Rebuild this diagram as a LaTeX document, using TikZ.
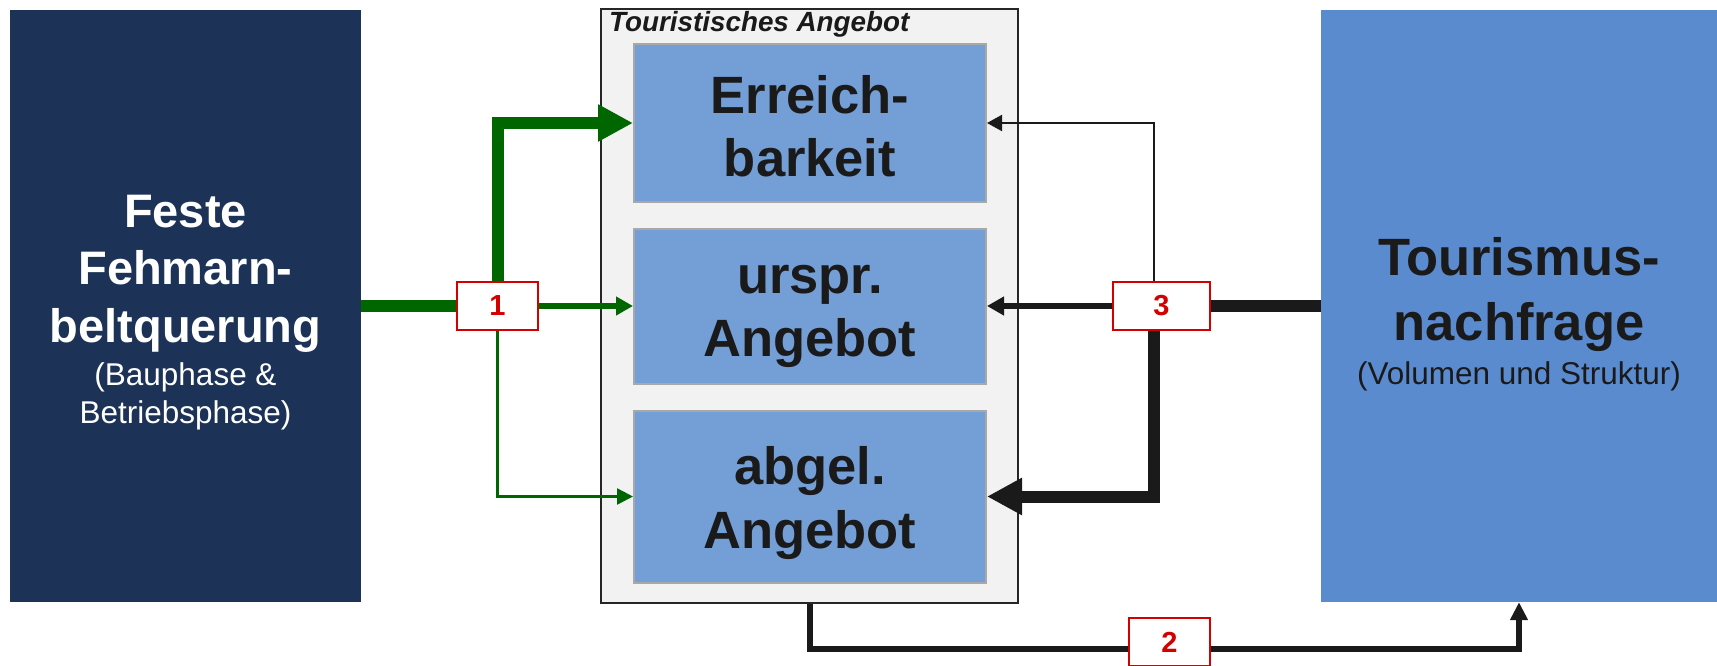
\documentclass[tikz,border=0pt]{standalone}
\usepackage{fontspec}
\setmainfont{Liberation Sans}
\usetikzlibrary{arrows.meta}

\definecolor{navy}{HTML}{1C3257}
\definecolor{innerblue}{HTML}{749ED6}
\definecolor{innergray}{HTML}{A8A8A8}
\definecolor{demandblue}{HTML}{5B8BCF}
\definecolor{panelfill}{HTML}{F2F2F2}
\definecolor{panelline}{HTML}{262626}
\definecolor{ink}{HTML}{1A1A1A}
\definecolor{fgreen}{HTML}{006600}
\definecolor{numred}{HTML}{D40000}

\begin{document}
\begin{tikzpicture}[x=1pt,y=-1pt,
  block/.style={rectangle, inner sep=0pt, draw=none},
  sub/.style={rectangle, inner sep=0pt, fill=innerblue, draw=innergray,
    line width=2pt, minimum width=352pt},
  bigtext/.style={inner sep=0pt, align=center, text=ink,
    font=\bfseries\fontsize{52.5}{63.5}\selectfont},
  numbox/.style={rectangle, inner sep=0pt, fill=white, draw=numred,
    line width=1.6pt, minimum height=48pt, text=numred,
    font=\bfseries\fontsize{29}{29}\selectfont},
  gthick/.style={draw=fgreen, line width=12pt, line join=miter},
  gmed/.style={draw=fgreen, line width=6pt},
  gthin/.style={draw=fgreen, line width=2.5pt, line join=miter},
  kthick/.style={draw=ink, line width=12pt, line join=miter},
  kmed/.style={draw=ink, line width=6pt, line join=miter},
  kthin/.style={draw=ink, line width=2pt, line join=miter},
  bigtip/.style={-{Triangle[length=35pt,width=35pt]}},
  midtip/.style={-{Triangle[length=17pt,width=18pt]}},
  smalltip/.style={-{Triangle[length=16pt,width=16pt]}}
]
\useasboundingbox (0,0) rectangle (1717,666);
\fill[white] (0,0) rectangle (1717,666);

% left block: the fixed link
\node[block, fill=navy, minimum width=351pt, minimum height=592pt] (link) at (185.5,306) {};
\node[inner sep=0pt, align=center, text=white,
      font=\bfseries\fontsize{47}{57.5}\selectfont] (linktext) at (185.5,312.5)
  {Feste\\Fehmarn-\\beltquerung\\[-14.5pt]
   {\mdseries\fontsize{31.5}{38}\selectfont (Bauphase \&}\\[-19.5pt]
   {\mdseries\fontsize{31.5}{38}\selectfont Betriebsphase)}};

% middle panel with three components
\node[block, fill=panelfill, draw=panelline, line width=2pt,
      minimum width=417pt, minimum height=594pt] (offer) at (809.5,306) {};
\node[anchor=base west, inner sep=0pt, text=ink,
      font=\bfseries\itshape\fontsize{27.8}{27.8}\selectfont] (offertitle) at (609,32)
  {Touristisches Angebot};

\node[sub, minimum height=157pt] (erreich) at (810,123) {};
\node[bigtext] (erreichtext) at (810,126) {Erreich-\\barkeit};
\node[sub, minimum height=155pt] (urspr) at (810,306) {};
\node[bigtext] (ursprtext) at (810,316.5) {urspr.\\Angebot};
\node[sub, minimum height=172pt] (abgel) at (810,496.5) {};
\node[bigtext] (abgeltext) at (810,503) {abgel.\\Angebot};

% right block: demand
\node[block, fill=demandblue, minimum width=396pt, minimum height=592pt] (demand) at (1519,306) {};
\node[inner sep=0pt, align=center, text=ink,
      font=\bfseries\fontsize{52.5}{65}\selectfont] (demandtext) at (1519,314.2)
  {Tourismus-\\nachfrage\\[-21pt]
   {\mdseries\fontsize{31.5}{38}\selectfont (Volumen und Struktur)}};

% numbered markers
\node[numbox, minimum width=81pt] (n1) at (497.5,306) {1};
\node[numbox, minimum width=97pt] (n3) at (1161.5,306) {3};
\node[numbox, minimum width=81pt] (n2) at (1169.5,642) {2};

% effects of the fixed link
\draw[gthick] (link.east) -- (n1.west);
\draw[gthick, bigtip] (n1.north) |- (erreich.west);
\draw[gmed, midtip] (n1.east) -- (urspr.west);
\draw[gthin, smalltip] (n1.south) |- (abgel.west);

% feedback of demand on the offer
\draw[kthick] (demand.west) -- (n3.east);
\draw[kmed, midtip] (n3.west) -- (urspr.east);
\draw[kthin, -{Triangle[length=15pt,width=16pt]}] ([xshift=-7.5pt]n3.north) |- (erreich.east);
\draw[kthick, bigtip] ([xshift=-7.5pt]n3.south) |- (abgel.east);

% offer drives demand
\draw[kmed] (offer.south) |- ([yshift=-7pt]n2.west);
\draw[kmed, -{Triangle[length=18pt,width=17pt]}] ([yshift=-7pt]n2.east) -| (demand.south);
\end{tikzpicture}
\end{document}
